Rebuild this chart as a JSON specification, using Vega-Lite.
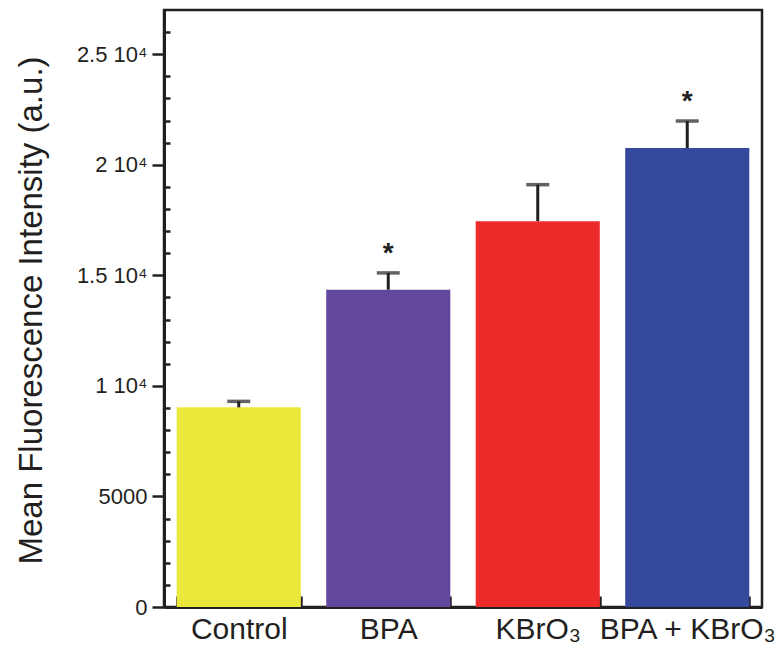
{
  "$schema": "https://vega.github.io/schema/vega-lite/v6.json",
  "width": 598,
  "height": 597,
  "autosize": {"type": "none"},
  "padding": {"left": 164, "top": 10, "right": 18, "bottom": 38},
  "background": "white",
  "config": {
    "view": {"stroke": "#231f20", "strokeWidth": 2.5},
    "font": "Liberation Sans",
    "axis": {"domainColor": "#231f20", "tickColor": "#231f20", "labelColor": "#231f20", "titleColor": "#231f20", "grid": false}
  },
  "data": {
    "values": [
      {"group": "Control", "value": 9030, "upper": 9300, "sig": ""},
      {"group": "BPA", "value": 14350, "upper": 15110, "sig": "*"},
      {"group": "KBrO₃", "value": 17450, "upper": 19100, "sig": ""},
      {"group": "BPA + KBrO₃", "value": 20760, "upper": 21980, "sig": "*"}
    ]
  },
  "encoding": {
    "x": {
      "field": "group",
      "type": "nominal",
      "sort": null,
      "scale": {"paddingInner": 0.17, "paddingOuter": 0.085},
      "axis": {
        "title": null,
        "labelAngle": 0,
        "labelFontSize": 30,
        "labelPadding": 18,
        "tickBand": "extent",
        "tickSize": -11,
        "tickWidth": 2.5,
        "domainWidth": 3,
        "labelOverlap": false,
        "labelBound": false,
        "labelFlush": false
      }
    }
  },
  "layer": [
    {
      "mark": {"type": "bar"},
      "encoding": {
        "y": {
          "field": "value",
          "type": "quantitative",
          "scale": {"domain": [0, 27000], "nice": false},
          "axis": {
            "title": "Mean Fluorescence Intensity (a.u.)",
            "values": [0, 5000, 10000, 15000, 20000, 25000],
            "labelExpr": "datum.value == 0 ? '0' : datum.value == 5000 ? '5000' : format(datum.value / 10000, '.1~f') + ' 10⁴'",
            "labelFontSize": 22,
            "labelPadding": 5,
            "tickSize": 12,
            "tickWidth": 2.5,
            "domainWidth": 3,
            "titleFontSize": 33,
            "titleFontWeight": "normal",
            "titleAngle": -90,
            "titleX": -123,
            "titleY": 300,
            "titleAlign": "center",
            "titleBaseline": "alphabetic"
          }
        },
        "color": {
          "field": "group",
          "type": "nominal",
          "scale": {
            "domain": ["Control", "BPA", "KBrO₃", "BPA + KBrO₃"],
            "range": ["#ebe83c", "#62489c", "#ec2b2b", "#34489c"]
          },
          "legend": null
        }
      }
    },
    {
      "mark": {"type": "rule", "color": "#231f20", "strokeWidth": 3},
      "encoding": {
        "y": {
          "field": "value",
          "type": "quantitative",
          "scale": {"domain": [0, 27000], "nice": false},
          "axis": {
            "orient": "left",
            "title": null,
            "labels": false,
            "domain": false,
            "values": [1000, 2000, 3000, 4000, 6000, 7000, 8000, 9000, 11000, 12000, 13000, 14000, 16000, 17000, 18000, 19000, 21000, 22000, 23000, 24000, 26000],
            "tickSize": -6,
            "tickWidth": 2.5
          }
        },
        "y2": {"field": "upper"}
      }
    },
    {
      "mark": {"type": "tick", "color": "#231f20", "thickness": 3.5, "size": 23},
      "encoding": {
        "y": {"field": "upper", "type": "quantitative", "axis": null}
      }
    },
    {
      "mark": {"type": "text", "fontSize": 28, "fontWeight": "bold", "dy": -11, "baseline": "alphabetic", "color": "#231f20"},
      "encoding": {
        "y": {"field": "upper", "type": "quantitative", "axis": null},
        "text": {"field": "sig"}
      }
    }
  ],
  "resolve": {"axis": {"y": "independent"}}
}
